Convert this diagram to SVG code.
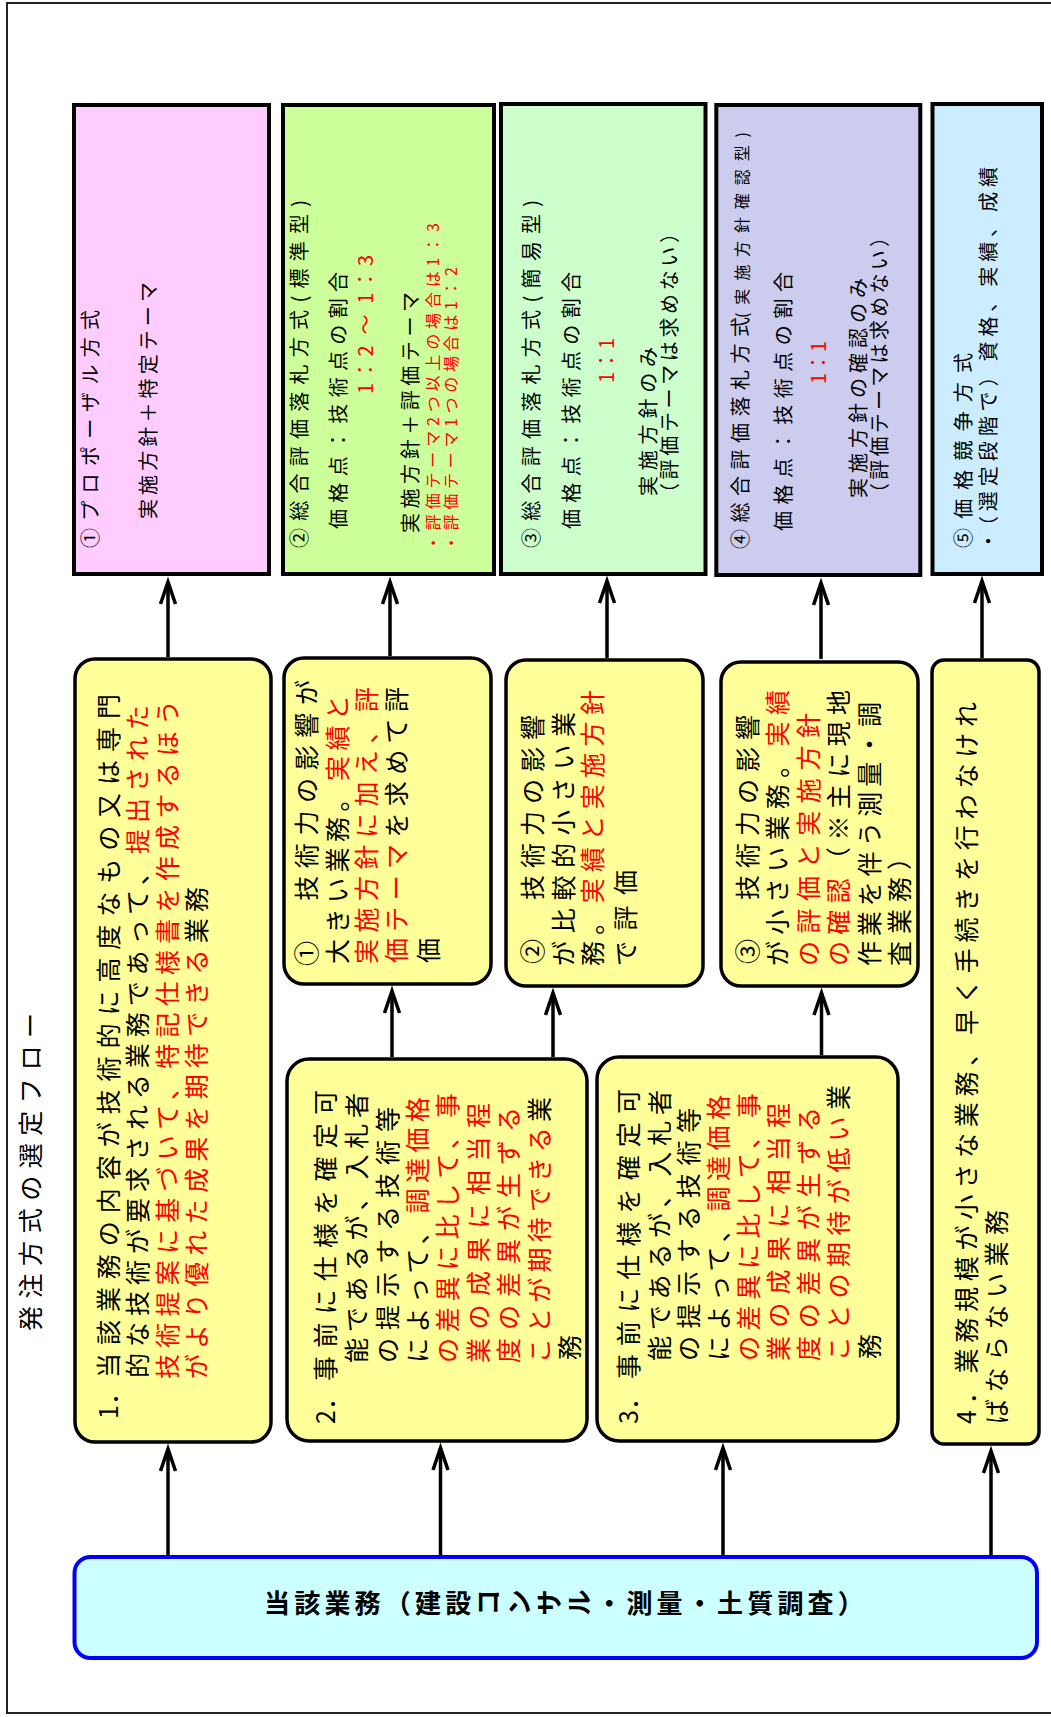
<svg xmlns="http://www.w3.org/2000/svg" width="1051" height="1717" viewBox="0 0 1051 1717">
<style>
.t{font-family:"Noto Sans CJK JP","Noto Sans CJK SC",sans-serif;fill:#000}
.s16{font-size:16px}.s20{font-size:20px}.s24{font-size:25px}.s25{font-size:25px}
.r{fill:#FF0000}
.tb{stroke:#000;stroke-width:4}
.yb{fill:#FFFF99;stroke:#000;stroke-width:3.5}
.cn{stroke:#000;stroke-width:3.5;fill:none;marker-end:url(#ah)}
</style>
<defs>
<marker id="ah" viewBox="-26 -12 34 24" refX="0" refY="0" markerWidth="34" markerHeight="24" markerUnits="userSpaceOnUse" orient="auto">
<path d="M-22,-7.5 L0,0 L-22,7.5" fill="none" stroke="#000" stroke-width="3.5"/>
</marker>
</defs>
<rect x="0" y="0" width="1051" height="1717" fill="#fff"/>
<rect x="7" y="3" width="1100" height="1710" fill="none" stroke="#222" stroke-width="2"/>
<g id="title">
<text class="t s25" transform="translate(40,1331) rotate(-90)" textLength="318" lengthAdjust="spacing">発注方式の選定フロー</text>
</g>
<g id="connectors">
<line class="cn" x1="168" y1="1555" x2="168" y2="1449"/>
<line class="cn" x1="440.5" y1="1555" x2="440.5" y2="1448"/>
<line class="cn" x1="723" y1="1555" x2="723" y2="1448"/>
<line class="cn" x1="991" y1="1555" x2="991" y2="1451"/>
<line class="cn" x1="392" y1="1057" x2="392" y2="991"/>
<line class="cn" x1="553" y1="1057" x2="553" y2="993"/>
<line class="cn" x1="821.5" y1="1055" x2="821.5" y2="993"/>
<line class="cn" x1="168" y1="657" x2="168" y2="582"/>
<line class="cn" x1="390" y1="656" x2="390" y2="582"/>
<line class="cn" x1="607" y1="658" x2="607" y2="581"/>
<line class="cn" x1="821" y1="659" x2="821" y2="583"/>
<line class="cn" x1="982" y1="658" x2="982" y2="581"/>
</g>
<g id="m1">
<rect x="74" y="105" width="195" height="469" fill="#FFCCFF" class="tb"/>
<text class="t s20" transform="translate(98,548) rotate(-90)" textLength="238" lengthAdjust="spacing">①プロポーザル方式</text>
<text class="t s20" transform="translate(156,519) rotate(-90)" textLength="237" lengthAdjust="spacing">実施方針＋特定テーマ</text>
</g>
<g id="m2">
<rect x="283" y="105" width="211" height="469" fill="#CCFF99" class="tb"/>
<text class="t s20" transform="translate(306.6,548) rotate(-90)" textLength="348" lengthAdjust="spacing">②総合評価落札方式(標準型)</text>
<text class="t s20" transform="translate(346,529) rotate(-90)" textLength="257" lengthAdjust="spacing">価格点：技術点の割合</text>
<text class="t s20 r" transform="translate(372.6,394) rotate(-90)" textLength="139" lengthAdjust="spacing">1：2 ～ 1：3</text>
<text class="t s20" transform="translate(417.6,533) rotate(-90)" textLength="241" lengthAdjust="spacing">実施方針＋評価テーマ</text>
<text class="t s16 r" transform="translate(438.6,551) rotate(-90)" textLength="328" lengthAdjust="spacing">・評価テーマ2つ以上の場合は1：3</text>
<text class="t s16 r" transform="translate(457,551) rotate(-90)" textLength="284" lengthAdjust="spacing">・評価テーマ1つの場合は1：2</text>
</g>
<g id="m3">
<rect x="501" y="104" width="204.5" height="470" fill="#CCFFCC" class="tb"/>
<text class="t s20" transform="translate(538.6,548) rotate(-90)" textLength="348" lengthAdjust="spacing">③総合評価落札方式(簡易型)</text>
<text class="t s20" transform="translate(579,529) rotate(-90)" textLength="257" lengthAdjust="spacing">価格点：技術点の割合</text>
<text class="t s20 r" transform="translate(613.6,383) rotate(-90)" textLength="45" lengthAdjust="spacing">1：1</text>
<text class="t s20" transform="translate(655.6,496) rotate(-90)" textLength="149" lengthAdjust="spacing">実施方針のみ</text>
<text class="t s20" transform="translate(677,503) rotate(-90)" textLength="280" lengthAdjust="spacing">（評価テーマは求めない）</text>
</g>
<g id="m4">
<rect x="716.3" y="105" width="204" height="470" fill="#CCCCEE" class="tb"/>
<text class="t s20" transform="translate(747.6,549) rotate(-90)"><tspan textLength="232" lengthAdjust="spacing">④総合評価落札方式</tspan><tspan class="s16" x="231" textLength="186" lengthAdjust="spacing">(実施方針確認型)</tspan></text>
<text class="t s20" transform="translate(790.6,531) rotate(-90)" textLength="259" lengthAdjust="spacing">価格点：技術点の割合</text>
<text class="t s20 r" transform="translate(826,384) rotate(-90)" textLength="43" lengthAdjust="spacing">1：1</text>
<text class="t s20" transform="translate(865.6,498) rotate(-90)" textLength="220" lengthAdjust="spacing">実施方針の確認のみ</text>
<text class="t s20" transform="translate(886.6,503) rotate(-90)" textLength="276" lengthAdjust="spacing">（評価テーマは求めない）</text>
</g>
<g id="m5">
<rect x="932.5" y="104" width="109.5" height="470" fill="#CCECFF" class="tb"/>
<text class="t s20" transform="translate(970.6,548) rotate(-90)" textLength="195" lengthAdjust="spacing">⑤価格競争方式</text>
<text class="t s20" transform="translate(995.6,551) rotate(-90)" textLength="384" lengthAdjust="spacing">・（選定段階で）資格、実績、成績</text>
</g>
<g id="c1">
<rect x="75" y="659" width="196" height="783" rx="20" class="yb"/>
<text class="t s24" transform="translate(118,1419) rotate(-90)"><tspan>1．</tspan><tspan x="41" textLength="684" lengthAdjust="spacing">当該業務の内容が技術的に高度なもの又は専門</tspan></text>
<text class="t s24" transform="translate(147,1378) rotate(-90)" textLength="673" lengthAdjust="spacing">的な技術が要求される業務であって、<tspan class="r">提出された</tspan></text>
<text class="t s24 r" transform="translate(176.6,1379) rotate(-90)" textLength="679" lengthAdjust="spacing">技術提案に基づいて、特記仕様書を作成するほう</text>
<text class="t s24" transform="translate(206,1379) rotate(-90)" textLength="492" lengthAdjust="spacing"><tspan class="r">がより優れた成果を期待できる</tspan>業務</text>
</g>
<g id="s1">
<rect x="284" y="658" width="207" height="326" rx="20" class="yb"/>
<text class="t s24" transform="translate(315.6,966) rotate(-90)" textLength="286" lengthAdjust="spacing">①　技術力の影響が</text>
<text class="t s24" transform="translate(346.6,964) rotate(-90)" textLength="269" lengthAdjust="spacing">大きい業務。<tspan class="r">実績と</tspan></text>
<text class="t s24 r" transform="translate(375.6,964) rotate(-90)" textLength="277" lengthAdjust="spacing">実施方針に加え、評</text>
<text class="t s24" transform="translate(405.6,963) rotate(-90)" textLength="276" lengthAdjust="spacing"><tspan class="r">価テーマ</tspan>を求めて評</text>
<text class="t s24" transform="translate(438,963) rotate(-90)">価</text>
</g>
<g id="s2">
<rect x="506" y="660" width="197" height="326" rx="20" class="yb"/>
<text class="t s24" transform="translate(541.7,964) rotate(-90)" textLength="249" lengthAdjust="spacing">②　技術力の影響</text>
<text class="t s24" transform="translate(572.6,966) rotate(-90)" textLength="254" lengthAdjust="spacing">が比較的小さい業</text>
<text class="t s24" transform="translate(601.6,966) rotate(-90)" textLength="276" lengthAdjust="spacing">務。<tspan class="r">実績と実施方針</tspan></text>
<text class="t s24" transform="translate(634.6,966) rotate(-90)" textLength="96" lengthAdjust="spacing">で評価</text>
</g>
<g id="s3">
<rect x="721" y="662" width="197" height="324" rx="20" class="yb"/>
<text class="t s24" transform="translate(757,964) rotate(-90)" textLength="249" lengthAdjust="spacing">③　技術力の影響</text>
<text class="t s24" transform="translate(787,966) rotate(-90)" textLength="276" lengthAdjust="spacing">が小さい業務。<tspan class="r">実績</tspan></text>
<text class="t s24 r" transform="translate(817.6,966) rotate(-90)" textLength="253" lengthAdjust="spacing">の評価と実施方針</text>
<text class="t s24" transform="translate(847.6,966) rotate(-90)" textLength="276" lengthAdjust="spacing"><tspan class="r">の確認</tspan>（※主に現地</text>
<text class="t s24" transform="translate(878.6,966) rotate(-90)" textLength="264" lengthAdjust="spacing">作業を伴う測量・調</text>
<text class="t s24" transform="translate(908.6,966) rotate(-90)" textLength="121" lengthAdjust="spacing">査業務）</text>
</g>
<g id="c4">
<rect x="932" y="660" width="107" height="784" rx="12" class="yb"/>
<text class="t s24" transform="translate(976,1424) rotate(-90)" textLength="722" lengthAdjust="spacing">4．業務規模が小さな業務、早く手続きを行わなけれ</text>
<text class="t s24" transform="translate(1006,1424) rotate(-90)" textLength="214" lengthAdjust="spacing">ばならない業務</text>
</g>
<g id="c2">
<rect x="287" y="1059" width="300" height="382" rx="22" class="yb"/>
<text class="t s24" transform="translate(335,1424) rotate(-90)"><tspan>2．</tspan><tspan x="43" textLength="291" lengthAdjust="spacing">事前に仕様を確定可</tspan></text>
<text class="t s24" transform="translate(366,1363) rotate(-90)" textLength="270" lengthAdjust="spacing">能であるが、入札者</text>
<text class="t s24" transform="translate(396.6,1363) rotate(-90)" textLength="256" lengthAdjust="spacing">の提示する技術等</text>
<text class="t s24" transform="translate(427,1363) rotate(-90)" textLength="266" lengthAdjust="spacing">によって、<tspan class="r">調達価格</tspan></text>
<text class="t s24 r" transform="translate(456.6,1363) rotate(-90)" textLength="270" lengthAdjust="spacing">の差異に比して、事</text>
<text class="t s24 r" transform="translate(487.6,1363) rotate(-90)" textLength="260" lengthAdjust="spacing">業の成果に相当程</text>
<text class="t s24 r" transform="translate(518,1363) rotate(-90)" textLength="256" lengthAdjust="spacing">度の差異が生ずる</text>
<text class="t s24" transform="translate(548.6,1363) rotate(-90)" textLength="266" lengthAdjust="spacing"><tspan class="r">ことが期待できる</tspan>業</text>
<text class="t s24" transform="translate(579,1360) rotate(-90)">務</text>
</g>
<g id="c3">
<rect x="597" y="1057" width="301" height="384" rx="22" class="yb"/>
<text class="t s24" transform="translate(638,1424) rotate(-90)"><tspan>3．</tspan><tspan x="45" textLength="290" lengthAdjust="spacing">事前に仕様を確定可</tspan></text>
<text class="t s24" transform="translate(669,1361) rotate(-90)" textLength="271" lengthAdjust="spacing">能であるが、入札者</text>
<text class="t s24" transform="translate(698,1361) rotate(-90)" textLength="253" lengthAdjust="spacing">の提示する技術等</text>
<text class="t s24" transform="translate(728,1361) rotate(-90)" textLength="266" lengthAdjust="spacing">によって、<tspan class="r">調達価格</tspan></text>
<text class="t s24 r" transform="translate(758,1361) rotate(-90)" textLength="268" lengthAdjust="spacing">の差異に比して、事</text>
<text class="t s24 r" transform="translate(788,1361) rotate(-90)" textLength="258" lengthAdjust="spacing">業の成果に相当程</text>
<text class="t s24 r" transform="translate(818,1361) rotate(-90)" textLength="254" lengthAdjust="spacing">度の差異が生ずる</text>
<text class="t s24" transform="translate(848,1361) rotate(-90)" textLength="276" lengthAdjust="spacing"><tspan class="r">ことの期待が低い</tspan>業</text>
<text class="t s24" transform="translate(879,1359) rotate(-90)">務</text>
</g>
<g id="root">
<rect x="74.5" y="1557" width="962.5" height="101" rx="16" fill="#CCFFFF" stroke="#0000FF" stroke-width="4"/>
<text class="t" x="264" y="1612.5" style="font-size:26px;font-weight:bold;letter-spacing:4.2px">当該業務（建設<tspan dx="22.9" dy="3" rotate="-90">コンサル</tspan><tspan dx="-22.9" dy="-3">・測量・土質調査）</tspan></text>
</g>
</svg>
